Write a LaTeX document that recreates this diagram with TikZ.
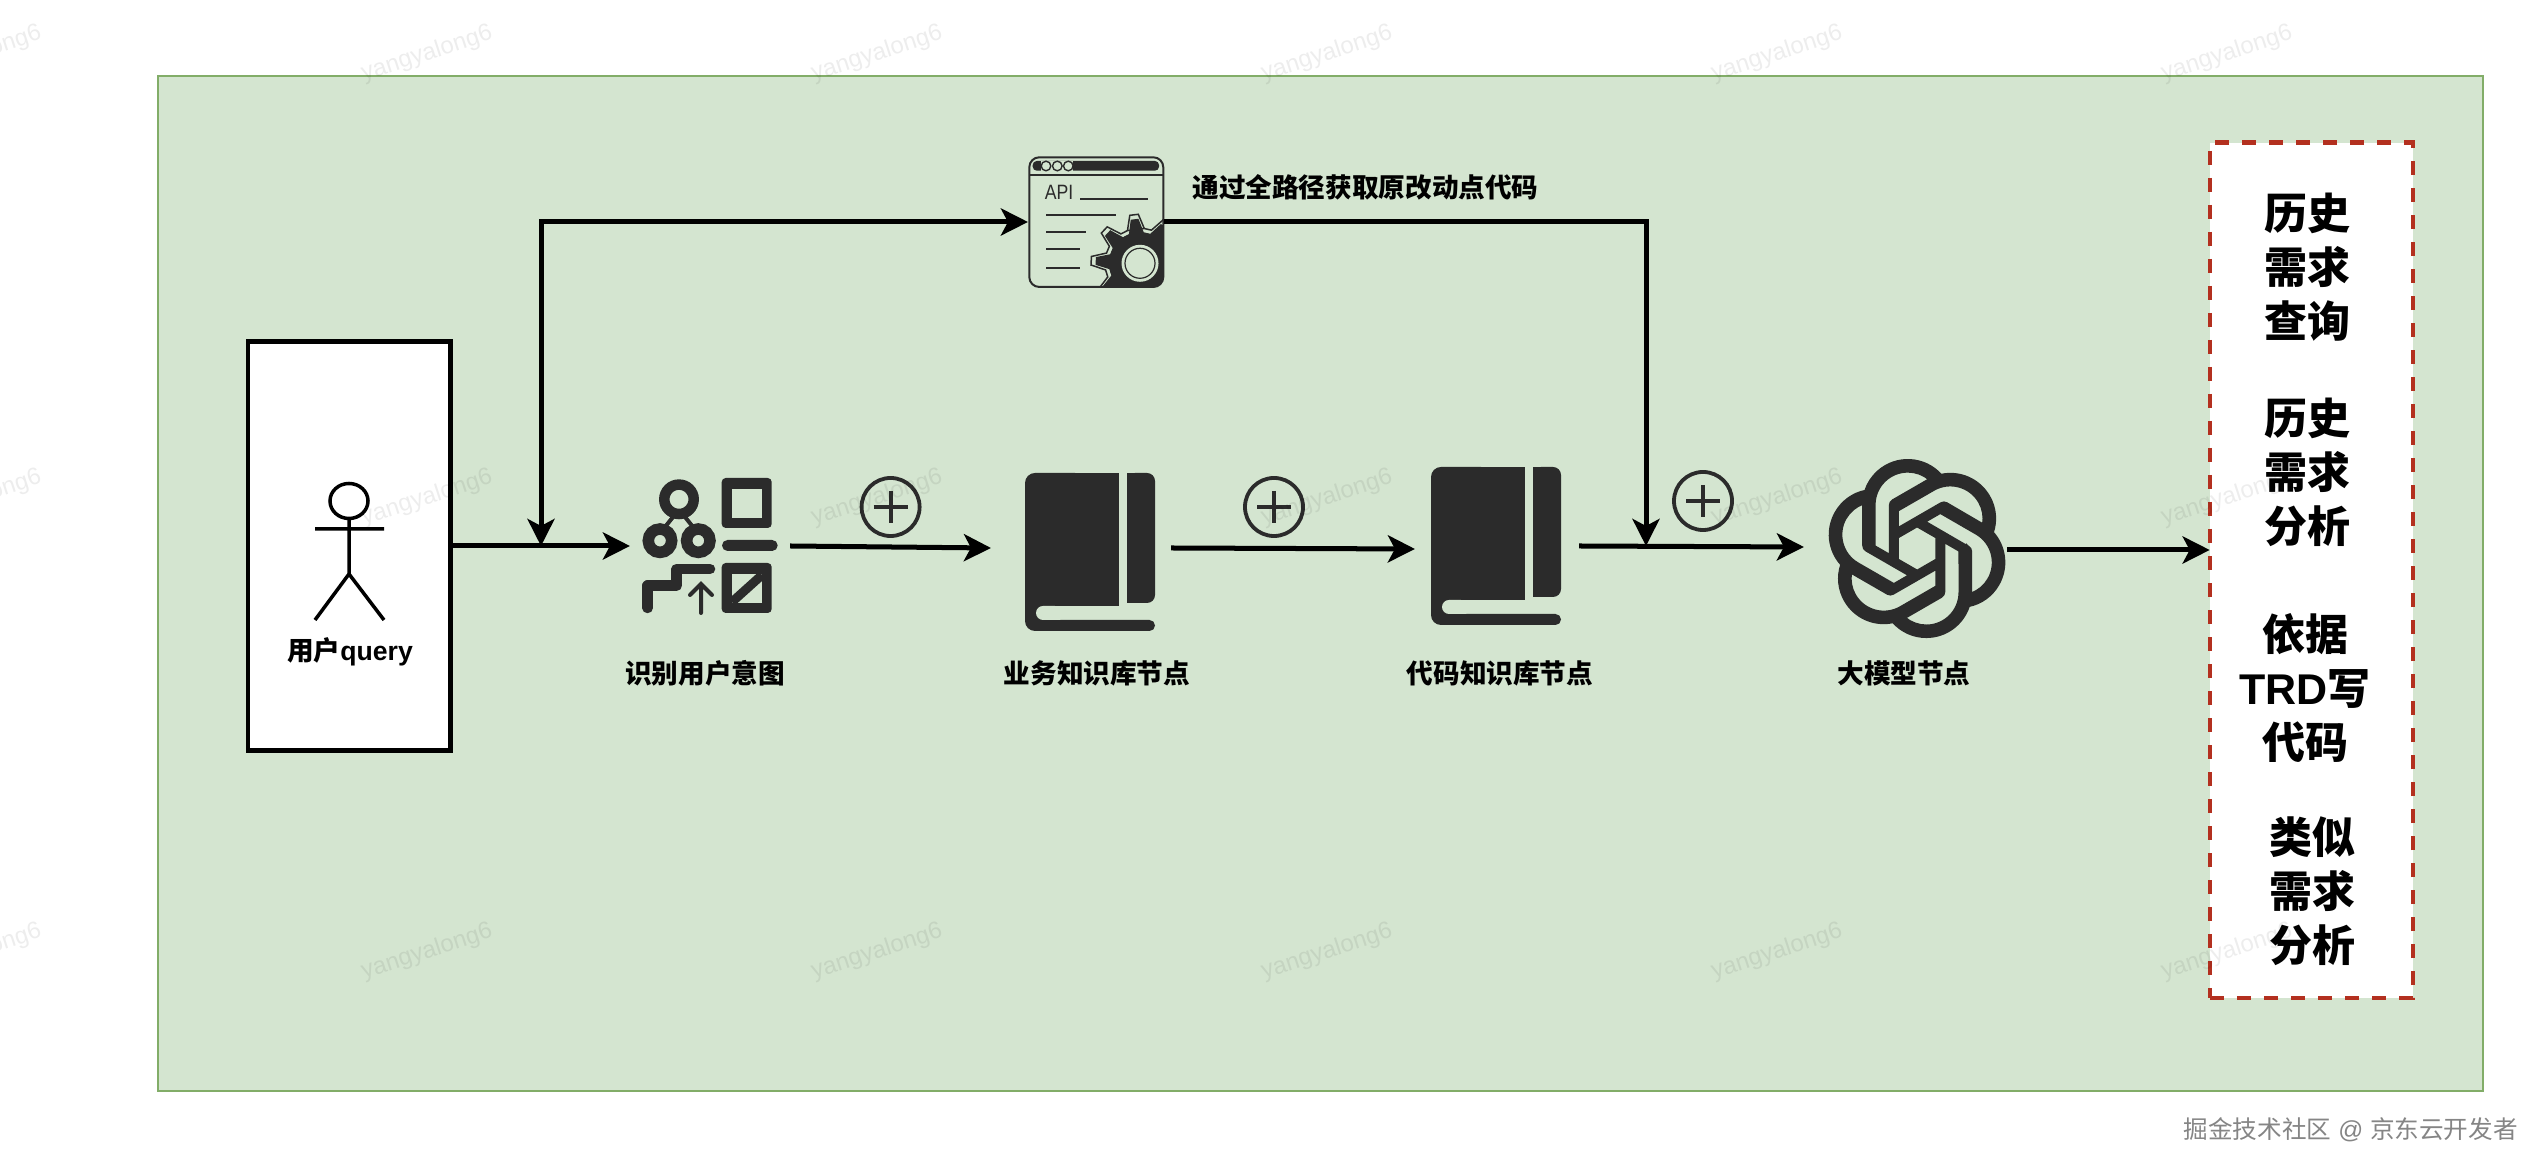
\documentclass[tikz,border=0pt]{standalone}
\usepackage{fontspec}
\setmainfont{Liberation Sans}
\newfontfamily\cjk{Noto Sans CJK SC}
\usetikzlibrary{arrows.meta,calc,svg.path}
\definecolor{bgc}{HTML}{D4E5D0}
\definecolor{bgl}{HTML}{82AD68}
\definecolor{ink}{HTML}{2B2B2B}
\definecolor{redd}{HTML}{B3301F}
\tikzset{
  x=0.01cm,y=-0.01cm,
  flow/.style={line width=0.05cm,-{Stealth[length=0.27cm,width=0.27cm,inset=0.07cm]},black},
  anchorbox/.style={inner sep=0,outer sep=0,minimum width=#1,minimum height=1.3cm},
  lbl/.style={font=\cjk\bfseries\fontsize{7.57pt}{9pt}\selectfont,inner sep=0},
  outtxt/.style={font=\cjk\bfseries\fontsize{12.23pt}{15.36pt}\selectfont,align=center,inner sep=0},
  wm/.style={font=\fontsize{6.83pt}{8pt}\selectfont,rotate=18,text=black,text opacity=0.07,inner sep=0},
  plussign/.pic={
    \draw[ink,line width=0.038cm] (0,0) circle[radius=0.29cm];
    \draw[ink,line width=0.038cm] (-17,0) -- (17,0) (0,-16) -- (0,16);
  },
  bookicon/.pic={
    \fill[ink,rounded corners=0.1cm] (0,0) rectangle (60,158);
    \fill[bgc,rounded corners=0.07cm] (11,133) rectangle (80,147);
    \fill[ink] (30,0) rectangle (94,133);
    \fill[ink,rounded corners=0.055cm] (30,147) rectangle (130,158);
    \fill[ink] (30,147) rectangle (60,158);
    \fill[ink,rounded corners=0.08cm] (102,0) rectangle (130,130);
    \fill[ink] (102,0) rectangle (112,130);
  },
}
\begin{document}
\begin{tikzpicture}
\useasboundingbox (0,0) rectangle (2548,1174);
\fill[white] (0,0) rectangle (2548,1174);
% panel
\node[draw=bgl,fill=bgc,line width=0.025cm,minimum width=23.24cm,minimum height=10.14cm,inner sep=0] (panel) at (1320.5,583.5) {};
% user box
\node[draw=black,fill=white,line width=0.048cm,minimum width=2.025cm,minimum height=4.08cm,inner sep=0] (user) at (349.3,546) {};
\draw[black,line width=0.035cm] (349,501) ellipse[x radius=0.19cm,y radius=0.175cm];
\draw[black,line width=0.035cm] (315,529) -- (384,529) (349,518.5) -- (349,574) (315,620) -- (349,574) -- (384,620);
\node[lbl] (userlbl) at (350,652) {用户{\rmfamily\bfseries query}};
% invisible anchors for icons
\node[anchorbox=1.6cm] (intent) at (710,546) {};
\node[anchorbox=1.8cm] (book1) at (1081,548) {};
\node[anchorbox=1.64cm] (book2) at (1497,546) {};
\node[anchorbox=2.03cm] (llm) at (1905.5,547) {};
\node[anchorbox=1.36cm] (api) at (1096,222) {};
\coordinate (j1) at (541,546);
\coordinate (j2) at (1646,546);
% output box
\node[draw=redd,fill=white,line width=0.045cm,dash pattern=on 0.14cm off 0.13cm,minimum width=2.03cm,minimum height=8.55cm,inner sep=0] (output) at (2311.5,570.5) {};
\node[outtxt] (o1) at (2307,267) {历史\\需求\\查询};
\node[outtxt] (o2) at (2307,472) {历史\\需求\\分析};
\node[outtxt] (o3) at (2305,688) {依据\\{\rmfamily\bfseries TRD}写\\代码};
\node[outtxt] (o4) at (2312,891) {类似\\需求\\分析};
% intent icon
\draw[ink,line width=0.105cm] (679,499.3) circle[radius=0.147cm];
\draw[ink,line width=0.115cm] (660,540.7) circle[radius=0.117cm];
\draw[ink,line width=0.115cm] (698.3,540.7) circle[radius=0.117cm];
\draw[ink,line width=0.04cm] (673,517) -- (665,527) (685,517) -- (693,527);
\fill[ink,rounded corners=0.04cm] (721.7,478) rectangle (771.7,528);
\fill[bgc] (732,489) rectangle (762,518);
\fill[ink,rounded corners=0.055cm] (722,540) rectangle (777.7,551);
\fill[ink,rounded corners=0.04cm] (721.7,563) rectangle (771.7,613);
\fill[bgc] (732,574) rectangle (762,602.7);
\draw[ink,line width=0.09cm] (732,602) -- (762,575);
\draw[ink,line width=0.105cm,line cap=round,line join=round] (647.7,608) -- (647.7,585.7) -- (676.7,585.7) -- (676.7,569) -- (710,569);
\draw[ink,line width=0.04cm,line cap=round] (701,613) -- (701,585) (690,595) -- (701,584) -- (712,595);
% books
\pic at (1025,473) {bookicon};
\pic at (1431,467) {bookicon};
% plus signs
\pic at (890.6,507) {plussign};
\pic at (1274,507) {plussign};
\pic at (1703,501) {plussign};
% llm icon
\begin{scope}[shift={(1828.5,460)},xscale=2.098,yscale=-2.098]
\filldraw[ink,line width=0.02cm,even odd rule] svg {M 22.2819 9.8211 a 5.9847 5.9847 0 0 0 -0.5157 -4.9108 a 6.0462 6.0462 0 0 0 -6.5098 -2.9 A 6.0651 6.0651 0 0 0 4.9807 4.1818 a 5.9847 5.9847 0 0 0 -3.9977 2.9 a 6.0462 6.0462 0 0 0 0.7427 7.0966 a 5.98 5.98 0 0 0 0.511 4.9107 a 6.051 6.051 0 0 0 6.5146 2.9001 A 5.9847 5.9847 0 0 0 13.2599 24 a 6.0557 6.0557 0 0 0 5.7718 -4.2058 a 5.9894 5.9894 0 0 0 3.9977 -2.9001 a 6.0557 6.0557 0 0 0 -0.7475 -7.0729 z
M 13.2599 22.4292 a 4.4755 4.4755 0 0 1 -2.8764 -1.0408 l 0.1419 -0.0804 l 4.7783 -2.7582 a 0.7948 0.7948 0 0 0 0.3927 -0.6813 v -6.7369 l 2.02 1.1686 a 0.071 0.071 0 0 1 0.038 0.052 v 5.5826 a 4.504 4.504 0 0 1 -4.4945 4.4944 z
M 3.5992 18.3038 a 4.4708 4.4708 0 0 1 -0.5346 -3.0137 l 0.142 0.0852 l 4.783 2.7582 a 0.7712 0.7712 0 0 0 0.7806 0 l 5.8428 -3.3685 v 2.3324 a 0.0804 0.0804 0 0 1 -0.0332 0.0615 L 9.74 19.9502 a 4.4992 4.4992 0 0 1 -6.1408 -1.6464 z
M 2.3408 7.8956 a 4.485 4.485 0 0 1 2.3655 -1.9728 V 11.6 a 0.7664 0.7664 0 0 0 0.3879 0.6765 l 5.8144 3.3543 l -2.0201 1.1685 a 0.0757 0.0757 0 0 1 -0.071 0 l -4.8303 -2.7865 A 4.504 4.504 0 0 1 2.3408 7.872 z
M 18.9371 11.7514 L 13.1038 8.364 L 15.1192 7.2 a 0.0757 0.0757 0 0 1 0.071 0 l 4.8303 2.7913 a 4.4944 4.4944 0 0 1 -0.6765 8.1042 v -5.6772 a 0.79 0.79 0 0 0 -0.407 -0.667 z
M 20.9478 8.7283 l -0.142 -0.0852 l -4.7735 -2.7818 a 0.7759 0.7759 0 0 0 -0.7854 0 L 9.409 9.2297 V 6.8974 a 0.0662 0.0662 0 0 1 0.0284 -0.0615 l 4.8303 -2.7866 a 4.4992 4.4992 0 0 1 6.6802 4.66 z
M 8.3065 12.863 l -2.02 -1.1638 a 0.0804 0.0804 0 0 1 -0.038 -0.0567 V 6.0742 a 4.4992 4.4992 0 0 1 7.3757 -3.4537 l -0.142 0.0805 L 8.704 5.459 a 0.7948 0.7948 0 0 0 -0.3927 0.6813 z
M 9.4041 10.4976 l 2.602 -1.4998 l 2.6069 1.4998 v 2.9994 l -2.5974 1.4997 l -2.6067 -1.4997 Z};
\end{scope}
% api icon
\begin{scope}
  \clip[rounded corners=0.1cm] (1029.3,157.3) rectangle (1163.3,287);
  \begin{scope}[shift={(1140,263.3)}]
    \draw[ink,fill=bgc,line width=0.015cm] (83:0.35cm) \foreach \a in {97,137,...,457}{ -- (\a-14:0.35cm) -- (\a-5:0.49cm) -- (\a+5:0.49cm) -- (\a+14:0.35cm)} -- cycle;
    \fill[ink] (83:0.31cm) \foreach \a in {97,137,...,457}{ -- (\a-14:0.31cm) -- (\a-5:0.445cm) -- (\a+5:0.445cm) -- (\a+14:0.31cm)} -- cycle;
    \fill[ink] (0,0) circle[radius=0.31cm];
    \fill[bgc] (0,0) circle[radius=0.185cm];
    \draw[ink,line width=0.012cm] (0,0) circle[radius=0.15cm];
  \end{scope}
  \fill[ink,rounded corners=0.04cm] (1032.7,161) rectangle (1159,170.7);
  \fill[bgc] (1040.7,161) rectangle (1073,170.7);
  \foreach \cx in {1046,1057.3,1068.3}{
    \draw[ink,line width=0.014cm] (\cx,166) circle[radius=0.048cm];
  }
\end{scope}
\draw[ink,line width=0.02cm,rounded corners=0.1cm] (1029.3,157.3) rectangle (1163.3,287);
\draw[ink,line width=0.02cm] (1029.3,175) -- (1163.3,175);
\node[inner sep=0,text=ink,font=\fontsize{5.9pt}{7pt}\selectfont,xscale=0.85] (apitxt) at (1059,192.5) {API};
\draw[ink,line width=0.017cm] (1080,199) -- (1148.3,199) (1046,215) -- (1116,215) (1046,231.7) -- (1085.7,231.7) (1046,249.3) -- (1080,249.3) (1046,268.3) -- (1080,268.3);
% labels
\node[lbl] (l0) at (1365.5,187) {通过全路径获取原改动点代码};
\node[lbl] (l1) at (705,673) {识别用户意图};
\node[lbl] (l2) at (1097,673) {业务知识库节点};
\node[lbl] (l3) at (1500,673) {代码知识库节点};
\node[lbl] (l4) at (1904,673) {大模型节点};
% connectors
\draw[flow] (user.east) -- (intent.west);
\draw[flow] (intent.east) -- (book1.west);
\draw[flow] (book1.east) -- ([yshift=-0.01cm]book2.west |- book1.east);
\draw[flow] (book2.east) -- (llm.west);
\draw[flow] ([yshift=-0.03cm]llm.east) -- ([xshift=0.02cm,yshift=-0.03cm]llm.east -| output.west);
\draw[line width=0.05cm,{Stealth[length=0.27cm,width=0.27cm,inset=0.07cm]}-{Stealth[length=0.27cm,width=0.27cm,inset=0.07cm]},black] (j1) |- (api.west);
\draw[flow] (api.east) -| (j2);
% footer
\node[inner sep=0,anchor=west,text=black!48,font=\fontsize{7pt}{8pt}\selectfont] (footer) at (2183,1130) {{\cjk 掘金技术社区} @ {\cjk 京东云开发者}};
% watermarks
\foreach \wy/\wz in {54/a,498/b,952/c}{
  \foreach \wx in {427,877,1327,1777,2227,-24}{
    \node[wm] (w\wz\wx) at (\wx,\wy) {yangyalong6};
  }
}
\end{tikzpicture}
\end{document}
